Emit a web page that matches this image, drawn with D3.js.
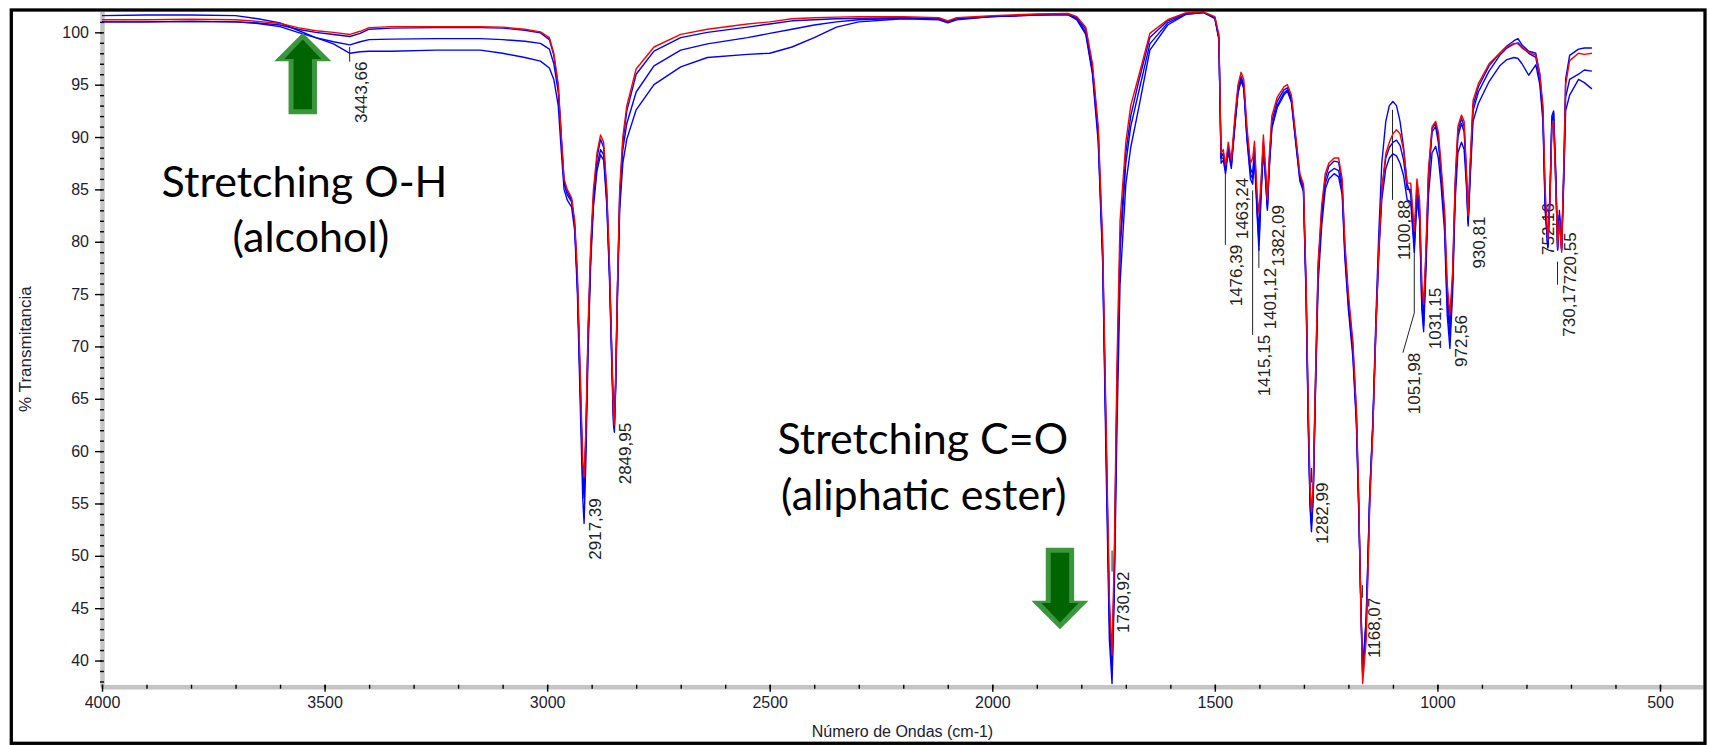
<!DOCTYPE html>
<html>
<head>
<meta charset="utf-8">
<script src="https://cdnjs.cloudflare.com/ajax/libs/d3/7.8.5/d3.min.js"></script>
<style>
  html, body { margin: 0; padding: 0; background: #fff; }
  svg { display: block; }
  .tick-label { font-family: "Liberation Sans", Arial, sans-serif; font-size: 16px; fill: #202030; }
  .axis-title { font-family: "Liberation Sans", Arial, sans-serif; font-size: 16px; fill: #202030; }
  .peak-label { font-family: "Liberation Sans", Arial, sans-serif; font-size: 17px; fill: #222; }
  .note { font-family: Lato, "Open Sans", sans-serif; font-size: 43px; fill: #000; }
</style>
</head>
<body>
<div id="chart"></div>
<script>
var width = 1710,
    height = 745;

// shared wavenumber grid (cm-1)
var wavenumbers = [
  4000, 3900, 3800, 3700, 3650, 3600, 3560, 3520, 3480, 3443, 3420, 3400, 3350, 3250, 3150, 3100, 3050, 3015,
  2995, 2985, 2975, 2968, 2962, 2955, 2945, 2938, 2932, 2926, 2920, 2917, 2913, 2908, 2902, 2896, 2888, 2880,
  2873, 2866, 2860, 2855, 2851, 2849, 2846, 2842, 2837, 2830, 2821, 2800, 2760, 2700, 2640, 2550, 2500, 2450,
  2400, 2350, 2300, 2200, 2120, 2100, 2080, 2000, 1900, 1830, 1810, 1790, 1775, 1762, 1752, 1744, 1737, 1731,
  1726, 1720, 1713, 1700, 1689, 1670, 1646, 1606, 1566, 1526, 1500, 1491, 1486, 1481, 1476, 1470, 1463, 1455,
  1448, 1441, 1435, 1428, 1420, 1415, 1411, 1405, 1401, 1396, 1391, 1386, 1382, 1378, 1372, 1360, 1345, 1337,
  1328, 1318, 1309, 1301, 1295, 1290, 1286, 1283, 1279, 1274, 1268, 1260, 1252, 1244, 1232, 1222, 1214, 1208,
  1200, 1190, 1182, 1177, 1172, 1168, 1160, 1152, 1145, 1138, 1132, 1125, 1116, 1108, 1100, 1092, 1084, 1076,
  1068, 1060, 1052, 1046, 1040, 1035, 1031, 1026, 1020, 1012, 1004, 998, 992, 984, 978, 972, 966, 960,
  954, 946, 940, 935, 931, 927, 920, 908, 884, 860, 844, 828, 819, 810, 795, 779, 770, 763,
  758, 752, 747, 743, 739, 734, 730, 726, 721, 716, 712, 703, 683, 670, 653
];

// % transmittance, red spectrum
var redSpectrum = [
  101.2, 101.2, 101.25, 101.2, 101.05, 100.85, 100.45, 100.15, 100.0, 99.8, 100.1, 100.45, 100.55, 100.55, 100.55, 100.5, 100.3, 100.05,
  99.5, 98.0, 95.0, 90.0, 86.0, 85.0, 84.2, 82.0, 77.0, 68.0, 59.0, 57.5, 62.0, 72.0, 80.0, 85.0, 88.5, 90.2,
  89.5, 85.0, 78.0, 70.0, 63.5, 62.5, 67.0, 76.0, 85.0, 90.0, 93.0, 96.5, 98.6, 99.8, 100.3, 100.8, 101.0, 101.3,
  101.4, 101.45, 101.5, 101.5, 101.4, 101.1, 101.4, 101.6, 101.75, 101.8, 101.5, 100.5, 97.0, 91.0, 80.0, 62.0, 46.0, 40.5,
  50.0, 68.0, 82.0, 89.5, 93.0, 96.0, 99.9, 101.2, 101.85, 101.95, 101.5, 99.8, 88.5, 88.8, 87.3, 89.5, 87.8, 92.0,
  95.0, 96.2, 95.5, 91.0, 87.5, 88.0, 89.6, 84.5, 82.7, 86.0, 90.2, 87.0, 84.0, 88.0, 92.0, 93.8, 94.8, 95.0,
  94.0, 90.0, 86.5, 85.5, 76.0, 64.0, 56.5, 54.2, 57.0, 67.0, 78.0, 83.5, 86.5, 87.5, 88.0, 88.0, 86.0, 80.0,
  75.0, 70.5, 64.0, 56.0, 45.0, 37.8, 42.0, 55.0, 62.0, 72.0, 79.0, 85.0, 88.4, 89.5, 90.3, 90.7, 90.3, 88.7,
  85.6, 85.6, 81.0, 86.0, 84.0, 76.0, 74.0, 79.0, 87.0, 91.0, 91.5, 90.5, 87.5, 83.0, 76.0, 73.0, 77.0, 86.0,
  91.0, 92.1, 91.5, 87.0, 82.5, 87.0, 93.5, 95.1, 97.0, 98.0, 98.6, 98.95, 98.9, 98.5, 98.1, 97.8, 96.0, 93.0,
  85.0, 80.2, 84.0, 91.0, 91.5, 85.0, 79.5, 82.0, 79.0, 87.2, 95.0, 97.3, 98.0, 97.9, 98.0
];

// blue spectrum that stays close to the red one
var blueSpectrum1 = [
  101.0, 101.0, 101.05, 101.0, 100.9, 100.7, 100.3, 100.0, 99.8, 99.6, 99.9, 100.3, 100.4, 100.45, 100.45, 100.4, 100.2, 99.95,
  99.3, 97.8, 94.8, 89.8, 85.8, 84.8, 84.0, 81.5, 76.0, 66.5, 57.5, 55.5, 61.0, 71.0, 79.0, 84.3, 88.0, 89.8,
  89.0, 84.5, 77.5, 69.5, 63.0, 62.3, 66.5, 75.5, 84.5, 89.5, 92.5, 96.0, 98.2, 99.5, 100.0, 100.5, 100.8, 101.1,
  101.2, 101.3, 101.35, 101.4, 101.3, 101.0, 101.3, 101.5, 101.7, 101.75, 101.4, 100.3, 96.7, 90.5, 79.0, 60.5, 45.0, 39.8,
  48.5, 66.0, 80.0, 88.5, 92.0, 95.5, 99.5, 101.1, 101.8, 101.9, 101.4, 99.5, 88.0, 88.0, 86.8, 89.0, 87.3, 91.5,
  94.6, 95.8, 95.0, 90.5, 87.0, 86.5, 89.0, 83.5, 81.0, 85.5, 89.5, 86.5, 83.5, 87.5, 91.5, 93.4, 94.5, 94.7,
  93.7, 89.7, 86.3, 85.3, 75.5, 63.0, 55.5, 53.5, 56.5, 66.5, 77.5, 83.0, 86.0, 87.2, 87.7, 87.6, 85.5, 79.5,
  74.5, 70.0, 63.5, 55.5, 45.0, 38.5, 43.0, 55.5, 62.5, 72.0, 79.0, 85.0, 88.0, 89.0, 89.5, 89.7, 89.2, 87.8,
  85.0, 85.0, 80.0, 85.5, 83.0, 75.0, 73.0, 78.5, 86.5, 90.8, 91.3, 90.0, 87.0, 82.5, 75.0, 72.0, 76.5, 85.5,
  90.5, 91.8, 91.0, 86.5, 82.0, 86.5, 93.0, 94.8, 96.8, 98.0, 98.7, 99.2, 99.4, 98.8, 98.2, 98.0, 96.0, 92.5,
  84.0, 79.6, 84.5, 91.5, 92.3, 86.0, 79.3, 82.5, 79.2, 87.5, 95.5, 97.8, 98.4, 98.5, 98.5
];

// blue spectrum with the middle baseline
var blueSpectrum2 = [
  101.0, 101.0, 101.05, 101.0, 100.85, 100.55, 100.0, 99.5, 99.1, 98.8, 99.1, 99.3, 99.35, 99.4, 99.4, 99.3, 99.15, 98.95,
  98.4, 97.0, 94.3, 89.5, 85.6, 84.5, 83.8, 81.5, 76.0, 67.0, 58.0, 56.0, 61.5, 71.0, 79.0, 84.0, 87.3, 88.8,
  88.3, 84.0, 77.0, 69.5, 63.5, 62.8, 67.0, 75.5, 84.0, 88.8, 91.3, 94.3, 96.8, 98.3, 98.9, 99.5, 99.9, 100.3,
  100.7, 101.0, 101.2, 101.35, 101.3, 101.0, 101.3, 101.5, 101.65, 101.7, 101.3, 100.0, 96.3, 90.0, 78.5, 60.0, 44.0, 38.8,
  48.0, 65.0, 79.0, 87.5, 91.0, 94.5, 98.9, 100.9, 101.75, 101.9, 101.4, 99.5, 88.0, 88.5, 87.0, 89.0, 87.5, 91.2,
  94.3, 95.5, 94.8, 90.0, 86.5, 86.0, 88.5, 83.0, 80.0, 85.0, 89.0, 86.0, 83.2, 87.0, 91.0, 93.0, 94.2, 94.5,
  93.5, 89.5, 86.0, 85.0, 75.0, 62.5, 55.0, 53.0, 56.0, 66.0, 77.0, 82.5, 85.5, 86.6, 87.0, 86.8, 85.0, 79.0,
  74.0, 69.5, 63.0, 55.0, 45.5, 38.8, 44.0, 56.0, 63.0, 73.0, 80.5, 87.5, 91.5, 93.0, 93.4, 93.0, 91.5, 89.0,
  85.5, 84.5, 79.5, 84.5, 82.5, 74.0, 72.0, 78.0, 86.0, 90.5, 91.0, 89.5, 86.5, 82.0, 74.0, 71.0, 76.0, 85.0,
  90.0, 91.3, 90.5, 86.0, 81.8, 86.0, 92.5, 94.3, 96.3, 97.8, 98.5, 98.9, 99.0, 98.6, 98.0, 97.6, 95.5, 92.0,
  83.5, 79.4, 85.0, 92.0, 92.5, 86.5, 79.2, 83.0, 79.5, 86.5, 93.8, 95.5, 96.0, 96.4, 96.3
];

// blue spectrum with the lowest baseline
var blueSpectrum3 = [
  101.6, 101.65, 101.65, 101.6, 101.3, 100.9, 100.2, 99.5, 98.9, 98.0, 98.15, 98.2, 98.2, 98.3, 98.3, 98.0, 97.6, 97.25,
  96.6, 95.5, 93.0, 88.5, 85.0, 84.0, 83.3, 81.0, 75.0, 65.0, 55.5, 53.1, 59.0, 69.5, 78.0, 83.3, 86.8, 88.3,
  87.8, 83.5, 76.5, 68.5, 62.5, 61.8, 66.0, 74.5, 83.0, 87.5, 89.8, 92.6, 95.0, 96.7, 97.6, 97.9, 98.0, 98.6,
  99.5, 100.5, 101.0, 101.3, 101.2, 100.9, 101.2, 101.5, 101.65, 101.7, 101.2, 99.8, 96.0, 89.5, 78.0, 58.0, 42.0, 37.8,
  46.0, 62.0, 76.0, 85.5, 89.0, 93.0, 98.3, 100.7, 101.7, 101.9, 101.3, 99.3, 87.5, 87.8, 86.5, 88.6, 87.0, 91.0,
  94.2, 95.4, 94.6, 89.8, 86.0, 85.5, 88.0, 82.5, 79.2, 84.5, 88.8, 85.8, 83.0, 86.8, 90.8, 92.8, 94.0, 94.4,
  93.3, 89.3, 85.8, 84.8, 74.5, 62.0, 54.5, 52.3, 55.5, 65.5, 76.0, 81.5, 85.0, 86.0, 86.5, 86.2, 84.5, 78.5,
  73.5, 69.0, 62.5, 54.5, 45.5, 39.0, 44.0, 56.0, 62.5, 72.0, 78.5, 84.0, 87.0, 88.0, 88.4, 88.2, 87.5, 86.3,
  84.0, 83.8, 79.0, 84.0, 82.0, 73.5, 71.4, 77.0, 84.5, 88.5, 89.1, 88.0, 85.5, 81.0, 73.0, 69.8, 75.0, 84.0,
  88.5, 89.5, 88.8, 85.5, 81.5, 85.5, 91.5, 93.2, 95.3, 96.8, 97.4, 97.6, 97.5, 97.0, 95.9, 96.9, 95.0, 91.5,
  83.0, 79.5, 84.5, 91.0, 91.5, 85.5, 79.5, 82.5, 79.3, 86.0, 92.5, 94.0, 95.5, 95.2, 94.6
];

// axis ticks
var xMajorTicks = [4000, 3500, 3000, 2500, 2000, 1500, 1000, 500];
var yMajorTicks = [40, 45, 50, 55, 60, 65, 70, 75, 80, 85, 90, 95, 100];

// peak labels: text, peak position, leader start (%T), optional bend (%T), label anchor
var peakText = ["3443,66", "2917,39", "2849,95", "1730,92", "1476,39", "1463,24", "1415,15", "1401,12", "1382,09",
  "1282,99", "1168,07", "1100,88", "1051,98", "1031,15", "972,56", "930,81", "752,16", "730,17", "720,55"];
var peakWn = [3443.66, 2917.39, 2849.95, 1730.92, 1476.39, 1463.24, 1415.15, 1401.12, 1382.09,
  1282.99, 1168.07, 1100.88, 1051.98, 1031.15, 972.56, 930.81, 752.16, 730.17, 720.55];
var leaderFrom = [98.6, null, null, 50.5, 86.8, null, 84.9, 79.4, null,
  58.4, 47.2, 92.6, 79.5, null, null, null, null, 78.1, null];
var leaderBend = [null, null, null, null, null, null, null, null, null,
  null, null, null, 73.2, null, null, null, null, null, null];
var labelWn = [3443.66, 2917.39, 2849.95, 1730.92, 1476.39, 1463.24, 1415.15, 1401.12, 1382.09,
  1282.99, 1168.07, 1100.88, 1077.5, 1031.15, 972.56, 930.81, 777, 730.17, 727];
var labelTop = [97.2, 55.5, 62.7, 48.5, 79.7, 86.1, 71.1, 77.5, 83.5,
  57.0, 46.0, 84.0, 69.4, 75.6, 73.0, 82.4, 83.7, 75.9, 80.9];

// band annotations
var noteLines = ["Stretching O-H", "(alcohol)", "Stretching C=O", "(aliphatic ester)"];
var noteWn = [3545, 3531, 2156, 2154];
var noteT = [84.27, 79.0, 59.72, 54.37];
var arrowWn = [3549, 1848];
var arrowT = [99.96, 42.98];
var arrowDir = [-1, 1]; // -1 points up, 1 points down

var x = d3.scaleLinear()
    .domain([4000, 403.4])
    .range([102, 1703]);
var y = d3.scaleLinear()
    .domain([37.5, 102])
    .range([686.7, 11.4]);

var svg = d3.select("#chart").append("svg")
    .attr("width", width)
    .attr("height", height);

svg.append("rect")
    .attr("width", width)
    .attr("height", height)
    .attr("fill", "#fff");

svg.append("clipPath").attr("id", "plot-clip")
  .append("rect")
    .attr("x", x.range()[0])
    .attr("y", y.range()[1])
    .attr("width", x.range()[1] - x.range()[0])
    .attr("height", y.range()[0] - y.range()[1]);

// y axis: gray line, minor ticks every unit, labelled ticks every 5
var gyMinor = svg.append("g")
    .attr("transform", "translate(" + x.range()[0] + ",0)")
    .call(d3.axisLeft(y).tickValues(d3.range(38, 102, 1)).tickSizeInner(2).tickSizeOuter(0).tickFormat(""));
gyMinor.select(".domain").attr("stroke", "#c4c4c4").attr("stroke-width", 4.5);
gyMinor.selectAll(".tick line").attr("x1", 2).attr("stroke", "#000").attr("stroke-width", 1.4);

var gy = svg.append("g")
    .attr("transform", "translate(" + x.range()[0] + ",0)")
    .call(d3.axisLeft(y).tickValues(yMajorTicks).tickSizeInner(7).tickSizeOuter(0).tickPadding(6));
gy.select(".domain").remove();
gy.selectAll(".tick line").attr("stroke", "#000").attr("stroke-width", 1.4);
gy.selectAll(".tick text").attr("class", "tick-label");

// x axis
var gxMinor = svg.append("g")
    .attr("transform", "translate(0," + y.range()[0] + ")")
    .call(d3.axisBottom(x).tickValues(d3.range(500, 4001, 100)).tickSizeInner(2).tickSizeOuter(0).tickFormat(""));
gxMinor.select(".domain").attr("stroke", "#c4c4c4").attr("stroke-width", 4.5);
gxMinor.selectAll(".tick line").attr("y1", -2).attr("stroke", "#000").attr("stroke-width", 1.4);

var gx = svg.append("g")
    .attr("transform", "translate(0," + y.range()[0] + ")")
    .call(d3.axisBottom(x).tickValues(xMajorTicks).tickSizeInner(5).tickSizeOuter(0).tickPadding(5).tickFormat(d3.format("d")));
gx.select(".domain").remove();
gx.selectAll(".tick line").attr("y1", -2).attr("stroke", "#000").attr("stroke-width", 1.4);
gx.selectAll(".tick text").attr("class", "tick-label");

svg.append("text")
    .attr("class", "axis-title")
    .attr("x", (x.range()[0] + x.range()[1]) / 2)
    .attr("y", 737)
    .attr("text-anchor", "middle")
    .text("Número de Ondas (cm-1)");

svg.append("text")
    .attr("class", "axis-title")
    .style("font-size", "17px")
    .attr("text-anchor", "middle")
    .attr("transform", "translate(31," + (y.range()[0] + y.range()[1]) / 2 + ") rotate(-90)")
    .text("% Transmitancia");

// peak labels and leader lines (drawn under the spectra)
var labelG = svg.append("g").attr("clip-path", "url(#plot-clip)");
var idx = d3.range(peakText.length);

labelG.selectAll("path.leader")
    .data(idx.filter(function(i) { return leaderFrom[i] != null; }))
    .enter().append("path")
    .attr("class", "leader")
    .attr("fill", "none")
    .attr("stroke", "#222")
    .attr("stroke-width", 1)
    .attr("d", function(i) {
        var pts = [[x(peakWn[i]), y(leaderFrom[i])]];
        if (leaderBend[i] != null) pts.push([x(peakWn[i]), y(leaderBend[i])]);
        pts.push([x(labelWn[i]), y(labelTop[i])]);
        return d3.line()(pts);
    });

labelG.selectAll("text.peak-label")
    .data(idx)
    .enter().append("text")
    .attr("class", "peak-label")
    .attr("text-anchor", "end")
    .attr("transform", function(i) {
        return "translate(" + (x(labelWn[i]) + 17) + "," + y(labelTop[i]) + ") rotate(-90)";
    })
    .text(function(i) { return peakText[i]; });

// spectra
var spectra = [
  { values: blueSpectrum3, color: "#0000ff" },
  { values: blueSpectrum2, color: "#0000ff" },
  { values: blueSpectrum1, color: "#0000ff" },
  { values: redSpectrum, color: "#ff0000" }
];

var line = d3.line()
    .x(function(d, i) { return x(wavenumbers[i]); })
    .y(function(d) { return y(d); });

svg.append("g")
    .attr("clip-path", "url(#plot-clip)")
  .selectAll("path")
    .data(spectra)
    .enter().append("path")
    .attr("fill", "none")
    .attr("stroke", function(d) { return d.color; })
    .attr("stroke-width", 1.4)
    .attr("stroke-linejoin", "round")
    .attr("d", function(d) { return line(d.values); });

// green block arrows
function arrowPath(dir, head, headLen, shaft, total) {
    var pts = [[0, 0], [head, headLen], [shaft, headLen], [shaft, total],
               [-shaft, total], [-shaft, headLen], [-head, headLen]];
    return d3.line()(pts.map(function(p) { return [p[0], -dir * p[1]]; })) + "Z";
}
var arrows = svg.append("g");
d3.range(arrowWn.length).forEach(function(i) {
    var g = arrows.append("g")
        .attr("transform", "translate(" + x(arrowWn[i]) + "," + y(arrowT[i]) + ")");
    g.append("path").attr("d", arrowPath(arrowDir[i], 28.5, 28.5, 14.2, 81.5)).attr("fill", "#3c963c");
    g.append("path")
        .attr("transform", "translate(0," + (-arrowDir[i] * 6.8) + ")")
        .attr("d", arrowPath(arrowDir[i], 18.5, 19.5, 9.2, 69.8)).attr("fill", "#006400");
});

// annotation text
svg.append("g").selectAll("text")
    .data(d3.range(noteLines.length))
    .enter().append("text")
    .attr("class", "note")
    .attr("text-anchor", "middle")
    .attr("x", function(i) { return x(noteWn[i]); })
    .attr("y", function(i) { return y(noteT[i]); })
    .text(function(i) { return noteLines[i]; });

// outer frame
svg.append("rect")
    .attr("x", 11.3)
    .attr("y", 10)
    .attr("width", 1705 - 11.3)
    .attr("height", 743.3 - 10)
    .attr("fill", "none")
    .attr("stroke", "#000")
    .attr("stroke-width", 3.3);
</script>
</body>
</html>
